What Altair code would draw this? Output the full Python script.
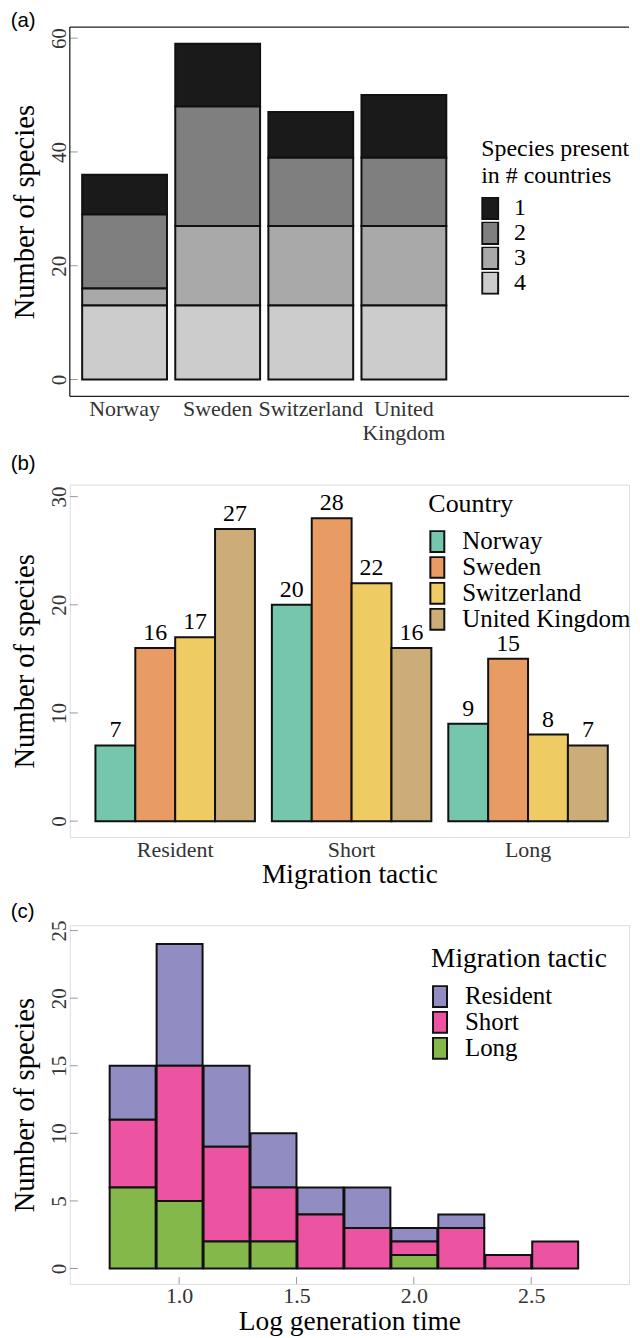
import altair as alt
import pandas as pd

# ---------------- data ----------------
# (a) species per country, split by number of countries they occur in
countries = ["Norway", "Sweden", "Switzerland", "United Kingdom"]
presence_levels = ["1", "2", "3", "4"]
present_in_1 = [7, 11, 8, 11]
present_in_2 = [13, 21, 12, 12]
present_in_3 = [3, 14, 14, 14]
present_in_4 = [13, 13, 13, 13]
presence_colors = ["#1a1a1a", "#7f7f7f", "#a9a9a9", "#cccccc"]
a_tick_values = [0, 20, 40, 60]

# (b) species per migration tactic and country
tactics = ["Resident", "Short", "Long"]
norway_by_tactic = [7, 20, 9]
sweden_by_tactic = [16, 28, 15]
switzerland_by_tactic = [17, 22, 8]
uk_by_tactic = [27, 16, 7]
country_colors = ["#76c6ae", "#e89c64", "#efcb64", "#ccad78"]
b_tick_values = [0, 10, 20, 30]

# (c) histogram of log generation time
bin_starts = [0.7, 0.9, 1.1, 1.3, 1.5, 1.7, 1.9, 2.1, 2.3, 2.5]
bin_ends = [0.9, 1.1, 1.3, 1.5, 1.7, 1.9, 2.1, 2.3, 2.5, 2.7]
resident_counts = [4, 9, 6, 4, 2, 3, 1, 1, 0, 0]
short_counts = [5, 10, 7, 4, 4, 3, 1, 3, 1, 2]
long_counts = [6, 5, 2, 2, 0, 0, 1, 0, 0, 0]
tactic_colors = ["#918dc2", "#ec54a1", "#85b84b"]
c_y_tick_values = [0, 5, 10, 15, 20, 25]
c_x_tick_values = [1.0, 1.5, 2.0, 2.5]

panel_letters = ["(a)", "(b)", "(c)"]

# ---------------- tables ----------------
rows_a = []
for lvl, vals in zip(presence_levels, [present_in_1, present_in_2, present_in_3, present_in_4]):
    for c, v in zip(countries, vals):
        rows_a.append({"country": c, "presence": lvl, "n": v})
df_a = pd.DataFrame(rows_a)

rows_b = []
for c, vals in zip(countries, [norway_by_tactic, sweden_by_tactic, switzerland_by_tactic, uk_by_tactic]):
    for t, v in zip(tactics, vals):
        rows_b.append({"tactic": t, "country": c, "n": v})
df_b = pd.DataFrame(rows_b)

rows_c = []
stack_rank = {"Long": 0, "Short": 1, "Resident": 2}
for t, vals in zip(tactics, [resident_counts, short_counts, long_counts]):
    for s, e, v in zip(bin_starts, bin_ends, vals):
        if v > 0:
            rows_c.append({"mig": t, "start": s, "end": e, "n": v, "rank": stack_rank[t]})
df_c = pd.DataFrame(rows_c)

# ---------------- style ----------------
SERIF = "Liberation Serif"
SANS = "Liberation Sans"
LABEL_COLOR = "#333333"
EDGE = "#111111"
TICK_COLOR = "#999999"

W_A, H_A = 561, 370.4
W_B, H_B = 561, 353.6
W_C, H_C = 561, 360
LETTER_X = -59.3


def y_axis(values, title):
    return alt.Axis(values=values, title=title, grid=False, domain=False, ticks=False, tickSize=0,
                    labelAngle=270, labelAlign="center", labelBaseline="alphabetic", labelPadding=4.4,
                    labelFont=SERIF, labelFontSize=21, labelColor=LABEL_COLOR,
                    titleFont=SERIF, titleFontSize=28.7, titleFontWeight="normal", titleColor="black",
                    titlePadding=9)


def legend(title, x, y, title_size, title_pad, label_size, path, size, line_h=None):
    kw = dict(orient="none", legendX=x, legendY=y, direction="vertical", title=title,
              titleFont=SERIF, titleFontSize=title_size, titleFontWeight="normal", titleColor="black",
              titleAnchor="start", titlePadding=title_pad,
              labelFont=SERIF, labelFontSize=label_size, labelColor="black", labelOffset=9,
              labelLimit=260, clipHeight=22.5,
              symbolType=path, symbolSize=size, symbolStrokeColor=EDGE, symbolStrokeWidth=2,
              symbolOpacity=1, rowPadding=0, padding=0)
    if line_h is not None:
        kw["titleLineHeight"] = line_h
    return alt.Legend(**kw)


one_row = pd.DataFrame({"k": [0]})


def letter(i, y):
    return alt.Chart(pd.DataFrame({"label": [panel_letters[i]]})).mark_text(
        font=SANS, fontSize=20.5, align="left", baseline="alphabetic", color="black"
    ).encode(text="label:N", x=alt.value(LETTER_X), y=alt.value(y))


# ---------------- panel (a) ----------------
ya_scale = alt.Scale(domain=[-2.95, 61.95], nice=False, zero=False)
ya_axis = y_axis(a_tick_values, "Number of species")

bars_a = alt.Chart(df_a).mark_bar(stroke=EDGE, strokeWidth=2).encode(
    x=alt.X("country:N", sort=countries,
            scale=alt.Scale(range=[12.4, 377.7], paddingInner=0.089, paddingOuter=0),
            axis=alt.Axis(title=None, labelAngle=0, domain=False, ticks=False, tickSize=0,
                          labelPadding=2, labelBaseline="top", labelFont=SERIF, labelFontSize=22,
                          labelColor=LABEL_COLOR, labelExpr="split(datum.label, ' ')",
                          labelLineHeight=24)),
    y=alt.Y("n:Q", stack="zero", scale=ya_scale, axis=ya_axis),
    color=alt.Color("presence:N", scale=alt.Scale(domain=presence_levels, range=presence_colors),
                    legend=legend(["Species present", "in # countries"], 412.7, 110.4, 24, 9.3, 24,
                                  "M-1,-1H0.455V1H-1Z", 484, 26.7)),
    order=alt.Order("presence:N", sort="descending"),
)
ticks_a = alt.Chart(pd.DataFrame({"n": a_tick_values})).mark_rule(color=TICK_COLOR, strokeWidth=1).encode(
    y=alt.Y("n:Q", scale=ya_scale, axis=ya_axis), x=alt.value(0), x2=alt.value(8))
frame_top = alt.Chart(one_row).mark_rule(color="#222", strokeWidth=1.3).encode(
    x=alt.value(0), x2=alt.value(W_A), y=alt.value(0))
frame_left = alt.Chart(one_row).mark_rule(color="#222", strokeWidth=1.3).encode(
    x=alt.value(0), y=alt.value(0), y2=alt.value(H_A))
frame_bottom = alt.Chart(one_row).mark_rule(color="#222", strokeWidth=1.3).encode(
    x=alt.value(0), x2=alt.value(W_A), y=alt.value(H_A))

panel_a = alt.layer(bars_a, ticks_a, frame_top, frame_left, frame_bottom, letter(0, 0.4)).properties(
    width=W_A, height=H_A, view=alt.ViewBackground(stroke="transparent"))

# ---------------- panel (b) ----------------
yb_scale = alt.Scale(domain=[-1.474, 31.11], nice=False, zero=False)
yb_axis = y_axis(b_tick_values, "Number of species")
xb = alt.X("tactic:N", sort=tactics,
           scale=alt.Scale(paddingInner=0.096, paddingOuter=0.1328, align=0.547),
           axis=alt.Axis(title="Migration tactic", labelAngle=0, domain=False, ticks=False, tickSize=0,
                         labelPadding=2, labelBaseline="top", labelFont=SERIF, labelFontSize=22,
                         labelColor=LABEL_COLOR, titleFont=SERIF, titleFontSize=27.5,
                         titleFontWeight="normal", titleColor="black", titlePadding=1))
xob = alt.XOffset("country:N", sort=countries, scale=alt.Scale(paddingInner=0, paddingOuter=0))

bars_b = alt.Chart(df_b).mark_bar(stroke=EDGE, strokeWidth=2).encode(
    x=xb, xOffset=xob,
    y=alt.Y("n:Q", scale=yb_scale, axis=yb_axis),
    color=alt.Color("country:N", scale=alt.Scale(domain=countries, range=country_colors),
                    legend=legend("Country", 359.7, 6.8, 26, 13, 25, "M-1,-1H0.333V1H-1Z", 441)),
)
text_b = alt.Chart(df_b).mark_text(font=SERIF, fontSize=24, baseline="alphabetic", dy=-8, color="black").encode(
    x=xb, xOffset=xob, y=alt.Y("n:Q", scale=yb_scale, axis=yb_axis), text="n:Q")
ticks_b = alt.Chart(pd.DataFrame({"n": b_tick_values})).mark_rule(color=TICK_COLOR, strokeWidth=1).encode(
    y=alt.Y("n:Q", scale=yb_scale, axis=yb_axis), x=alt.value(0), x2=alt.value(8))

panel_b = alt.layer(bars_b, text_b, ticks_b, letter(1, -15)).properties(width=W_B, height=H_B)

# ---------------- panel (c) ----------------
yc_scale = alt.Scale(domain=[-1.15, 25.4], nice=False, zero=False)
yc_axis = y_axis(c_y_tick_values, "Number of species")
xc_scale = alt.Scale(domain=[0.5344, 2.9166], nice=False, zero=False)
xc_axis = alt.Axis(values=c_x_tick_values, format=".1f", title="Log generation time", grid=False,
                   domain=False, ticks=False, tickSize=0, labelPadding=1.5, labelBaseline="top",
                   labelFont=SERIF, labelFontSize=22, labelColor=LABEL_COLOR, titleFont=SERIF,
                   titleFontSize=27.5, titleFontWeight="normal", titleColor="black", titlePadding=1)

bars_c = alt.Chart(df_c).mark_bar(stroke=EDGE, strokeWidth=2).encode(
    x=alt.X("start:Q", bin="binned", scale=xc_scale, axis=xc_axis),
    x2="end:Q",
    y=alt.Y("n:Q", stack="zero", scale=yc_scale, axis=yc_axis),
    color=alt.Color("mig:N", scale=alt.Scale(domain=tactics, range=tactic_colors),
                    legend=legend("Migration tactic", 362.4, 20.4, 27.5, 12.3, 25, "M-1,-1H0.333V1H-1Z", 441)),
    order=alt.Order("rank:Q", sort="ascending"),
)
yticks_c = alt.Chart(pd.DataFrame({"n": c_y_tick_values})).mark_rule(color=TICK_COLOR, strokeWidth=1).encode(
    y=alt.Y("n:Q", scale=yc_scale, axis=yc_axis), x=alt.value(0), x2=alt.value(8))
xticks_c = alt.Chart(pd.DataFrame({"start": c_x_tick_values})).mark_rule(color=TICK_COLOR, strokeWidth=1).encode(
    x=alt.X("start:Q", scale=xc_scale, axis=xc_axis), y=alt.value(H_C), y2=alt.value(H_C - 7))

panel_c = alt.layer(bars_c, yticks_c, xticks_c, letter(2, -7.6)).properties(width=W_C, height=H_C)

chart = alt.vconcat(panel_a, panel_b, panel_c, spacing=88, bounds="flush").resolve_scale(
    color="independent", x="independent", y="independent"
).properties(
    padding={"left": 2, "top": 0, "right": 0, "bottom": 0}
).configure_view(stroke="#222222", strokeWidth=1.3).configure(background="white", font=SERIF)

chart.save("out.html", embed_options={"renderer": "svg", "actions": False})
